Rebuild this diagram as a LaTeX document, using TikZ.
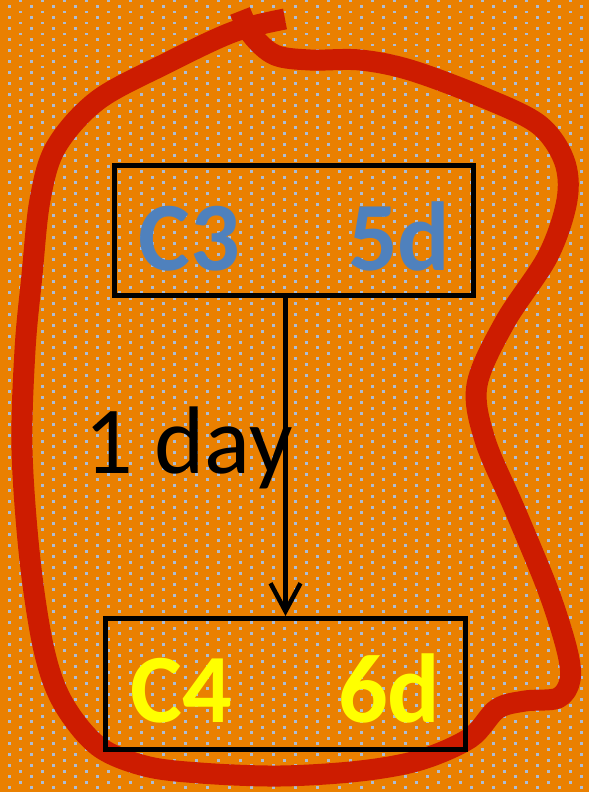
\documentclass[tikz,border=0pt]{standalone}
\usepackage{fontspec}
\setmainfont{Carlito}
\usetikzlibrary{arrows.meta}

\definecolor{bgorange}{RGB}{234,128,0}
\definecolor{dotblue}{RGB}{172,188,212}
\definecolor{loopred}{RGB}{205,28,0}
\definecolor{cblue}{RGB}{79,129,189}
\definecolor{cyellow}{RGB}{255,255,0}

\tikzset{
  stagebox/.style={draw=black, line width=5pt, rectangle, inner sep=0pt},
  bigbold/.style={font=\fontsize{98}{116}\selectfont\bfseries, inner sep=0pt, anchor=base west},
  daylabel/.style={font=\fontsize{96}{115}\selectfont, inner sep=0pt, anchor=base west, text=black},
  loop/.style={draw=loopred, line width=21pt, line cap=butt, line join=round},
  dotcell/.style={fill=dotblue},
}

\begin{document}
\begin{tikzpicture}[x=1pt, y=-1pt]
  % canvas
  \useasboundingbox (0,0) rectangle (589,792);
  \fill[bgorange] (0,0) rectangle (589,792);

  % dotted texture: two staggered lattices
  \foreach \j in {0,...,72}{
    \foreach \i in {0,...,26}{
      \fill[dotcell] ({9.3+22*\i-1.3},{6.7+11*\j-1.3}) rectangle ++(2.6,2.6);
      \fill[dotcell] ({20.3+22*\i-1.3},{1.2+11*\j-1.3}) rectangle ++(2.6,2.6);
    }
  }

  % hand-drawn loop around both stages
  \draw[loop] plot[smooth, tension=0.55] coordinates {
    (240,11) (252,35) (275,55) (310,60) (360,60) (410,70) (480,96)
    (538,124) (564,160) (567,200) (548,256) (505,322) (477,385)
    (485,440) (515,510) (548,590) (567,650) (570,680) (558,698)
    (525,701) (497,709) (470,738) (420,760) (360,771) (280,776)
    (200,773) (145,766) (98,746) (63,703) (44,650) (30,560)
    (22,450) (25,350) (32,275) (40,200) (56,147) (98,100)
    (167,63) (233,32) (285,19)};

  % stages
  \node[stagebox, minimum width=359pt, minimum height=130pt] (c3box) at (294,230.5) {};
  \node[stagebox, minimum width=360pt, minimum height=131pt] (c4box) at (285.5,684) {};

  \node[bigbold, text=cblue] (c3) at (138,270) {C3};
  \node[bigbold, text=cblue] (d5) at (348,270) {5d};
  \node[bigbold, text=cyellow] (c4) at (130,722) {C4};
  \node[bigbold, text=cyellow] (d6) at (338,722) {6d};

  % transition
  \draw[line width=4.5pt, -{Straight Barb[length=28pt, width=30pt, line width=4.5pt]}]
    (c3box.south -| c4box.north) -- (c4box.north);
  \node[daylabel] (day) at (84,473) {1 day};
\end{tikzpicture}
\end{document}
